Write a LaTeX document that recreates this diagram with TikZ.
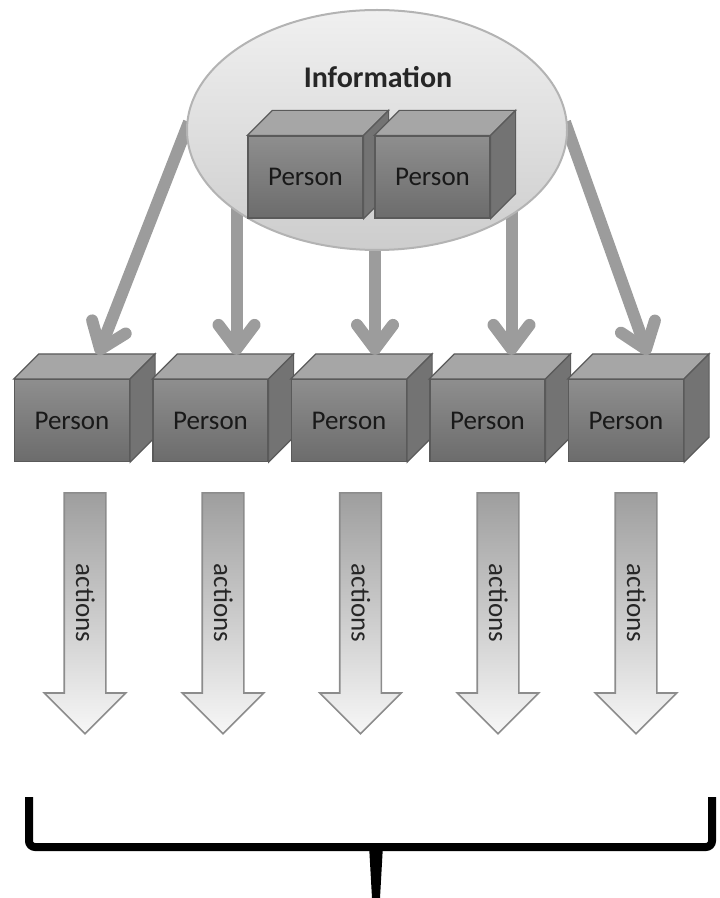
\documentclass[tikz,border=0pt]{standalone}
\usepackage{fontspec}
\setmainfont{Carlito}
\usepackage{tikz}
\usetikzlibrary{shapes, calc, arrows.meta}

\definecolor{boxlight}{HTML}{8E8E8E}
\definecolor{boxdark}{HTML}{6C6C6C}
\definecolor{boxtop}{HTML}{A6A6A6}
\definecolor{boxside}{HTML}{737373}
\definecolor{boxedge}{HTML}{5A5A5A}
\definecolor{linkgray}{HTML}{9C9C9C}
\definecolor{arrowdark}{HTML}{9E9E9E}
\definecolor{arrowlight}{HTML}{F7F7F7}
\definecolor{arrowedge}{HTML}{8C8C8C}
\definecolor{cloudlight}{HTML}{F0F0F0}
\definecolor{clouddark}{HTML}{CDCDCD}
\definecolor{cloudedge}{HTML}{B3B3B3}

\begin{document}
\begin{tikzpicture}[x=0.5pt, y=-0.5pt,
	personbox/.style={draw=boxedge, line width=0.6pt, top color=boxlight, bottom color=boxdark,
		minimum width=57.5pt, minimum height=41pt, inner sep=0pt, text=black!90,
		font=\fontsize{13.5}{15}\selectfont,
		append after command={\pgfextra{
			\filldraw[draw=boxedge, line width=0.6pt, fill=boxtop] (\tikzlastnode.north west) -- ++(25,-25)
				-- ($(\tikzlastnode.north east)+(25,-25)$) -- (\tikzlastnode.north east) -- cycle;
			\filldraw[draw=boxedge, line width=0.6pt, fill=boxside] (\tikzlastnode.north east) -- ++(25,-25)
				-- ($(\tikzlastnode.south east)+(25,-25)$) -- (\tikzlastnode.south east) -- cycle;
		}}},
	link/.style={draw=linkgray, line width=6pt, -{Straight Barb[length=12pt, width=18pt, round]}},
	actionarrow/.style={single arrow, rotate=-90, anchor=tail, draw=arrowedge, line width=0.8pt,
		top color=arrowdark, bottom color=arrowlight, single arrow head extend=10pt,
		single arrow tip angle=90, minimum height=120.5pt, minimum width=40pt, text height=9pt,
		text depth=0pt, inner ysep=5.5pt, text=black!85, font=\fontsize{13.5}{15}\selectfont}
]
	\useasboundingbox (0,0) rectangle (719,898);

	% Drawing the persons in a row
	\node[personbox] (p1) at (72,420.5) {Person};
	\node[personbox] (p2) at (210.5,420.5) {Person};
	\node[personbox] (p3) at (349,420.5) {Person};
	\node[personbox] (p4) at (487.5,420.5) {Person};
	\node[personbox] (p5) at (626,420.5) {Person};

	% Points where the arrows land
	\coordinate (tip1) at ($(p1.north)+(26,-24)$);
	\coordinate (tip2) at ($(p2.north)+(26,-24)$);
	\coordinate (tip3) at ($(p3.north)+(26,-24)$);
	\coordinate (tip4) at ($(p4.north)+(24,-24)$);
	\coordinate (tip5) at ($(p5.north)+(22,-24)$);
	\coordinate (infocenter) at (377,130);
	\coordinate (src1) at (189,122);
	\coordinate (src5) at (565,122);

	% Drawing the arrows from the information
	\draw[link] (src1) -- (tip1);
	\draw[link] (tip2 |- infocenter) -- (tip2);
	\draw[link] (tip3 |- infocenter) -- (tip3);
	\draw[link] (tip4 |- infocenter) -- (tip4);
	\draw[link] (src5) -- (tip5);

	% Drawing the information
	\node[ellipse, draw=cloudedge, line width=1pt, top color=cloudlight, bottom color=clouddark,
		minimum width=190pt, minimum height=120pt, inner sep=0pt] (info) at (infocenter) {};
	\node[font=\bfseries\fontsize{15}{18}\selectfont, text=black!85] (infolabel) at (378,77) {Information};
	\node[personbox] (i1) at (305.5,177) {Person};
	\node[personbox] (i2) at (432.5,177) {Person};

	% Drawing the actions
	\node[actionarrow] (a1) at (85,492) {actions};
	\node[actionarrow] (a2) at (223,492) {actions};
	\node[actionarrow] (a3) at (360.5,492) {actions};
	\node[actionarrow] (a4) at (498,492) {actions};
	\node[actionarrow] (a5) at (636,492) {actions};

	% Drawing the brace
	\draw[line width=4pt, rounded corners=3pt] (29,797) |- (712,847) -- (712,797);
	\fill (369,845) -- (383,845) -- (380,898) -- (372,898) -- cycle;
\end{tikzpicture}
\end{document}
